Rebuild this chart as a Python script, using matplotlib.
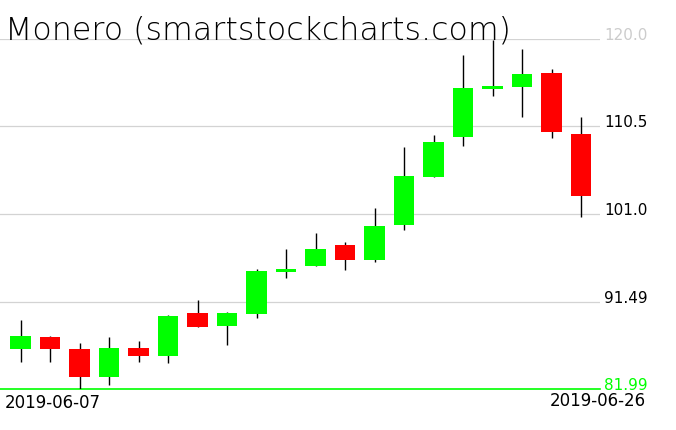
import matplotlib
matplotlib.use("Agg")
import matplotlib.pyplot as plt
import matplotlib.transforms as mtransforms

# daily candles, 2019-06-07 .. 2019-06-26
dates = ["2019-06-07", "2019-06-08", "2019-06-09", "2019-06-10", "2019-06-11",
         "2019-06-12", "2019-06-13", "2019-06-14", "2019-06-15", "2019-06-16",
         "2019-06-17", "2019-06-18", "2019-06-19", "2019-06-20", "2019-06-21",
         "2019-06-22", "2019-06-23", "2019-06-24", "2019-06-25", "2019-06-26"]
opens  = [86.37, 87.64, 86.34, 83.33, 86.45, 85.61, 90.25, 88.87, 90.18, 94.74,
          95.35, 97.63, 96.04, 99.84, 105.05, 109.39, 114.60, 114.82, 116.34, 109.69]
highs  = [89.50, 87.75, 87.00, 87.64, 87.21, 90.07, 91.66, 90.36, 95.03, 97.20,
          98.94, 97.96, 101.65, 108.27, 109.58, 118.30, 119.90, 118.91, 116.74, 111.50]
lows   = [84.96, 84.96, 82.00, 82.47, 84.96, 84.79, 88.76, 86.80, 89.74, 94.08,
          95.35, 94.95, 95.82, 99.29, 105.05, 108.42, 113.84, 111.56, 109.22, 100.64]
closes = [87.75, 86.37, 83.33, 86.45, 85.61, 89.92, 88.76, 90.25, 94.81, 95.03,
          97.20, 96.04, 99.70, 105.12, 108.82, 114.68, 114.90, 116.20, 109.90, 102.99]

levels = [120.0, 110.5, 101.0, 91.49, 81.99]
level_labels = ["120.0", "110.5", "101.0", "91.49", "81.99"]
level_colors = ["#cccccc", "black", "black", "black", "#00ff00"]

W, H = 676, 431
fig = plt.figure(figsize=(W / 100, H / 100), dpi=100)
# plot area in pixels: x 0..600, y 40..390
ax = fig.add_axes([0, 1 - 390 / H, 600 / W, 350 / H])
ax.set_axis_off()

ax.set_ylim(81.99, 120.0)
ax.set_xlim(-20.5 / 29.5, (600 - 20.5) / 29.5)

# grid lines
for lv in levels[:-1]:
    ax.axhline(lv, color="#d3d3d3", lw=0.9, zorder=0)
ax.axhline(levels[-1], color="#00ff00", lw=1.2, zorder=0, clip_on=False)

x = list(range(len(dates)))
cols = ["#00ff00" if c >= o else "#ff0000" for o, c in zip(opens, closes)]
ax.vlines(x, lows, highs, color="black", lw=1.0, zorder=1)
bottoms = [min(o, c) for o, c in zip(opens, closes)]
heights = [max(abs(c - o), 0.3) for o, c in zip(opens, closes)]
ax.bar(x, heights, bottom=bottoms, width=0.71, color=cols, zorder=2)

# price labels on the right
tr = mtransforms.offset_copy(ax.get_yaxis_transform(), fig=fig, x=4, y=0, units="dots")
for lv, lab, c in zip(levels, level_labels, level_colors):
    ax.text(1.0, lv, lab, transform=tr, color=c, fontsize=11,
            ha="left", va="baseline", clip_on=False)

fig.text(5 / W, 1 - 39 / H, "Monero (smartstockcharts.com)", fontsize=22.8,
         fontweight="light", color="black", va="baseline", ha="left")

fig.text(5 / W, 1 - 394 / H, dates[0], fontsize=12, va="top", ha="left")
fig.text(646 / W, 1 - 392 / H, dates[-1], fontsize=12, va="top", ha="right")

fig.savefig("out.png", dpi=100)
